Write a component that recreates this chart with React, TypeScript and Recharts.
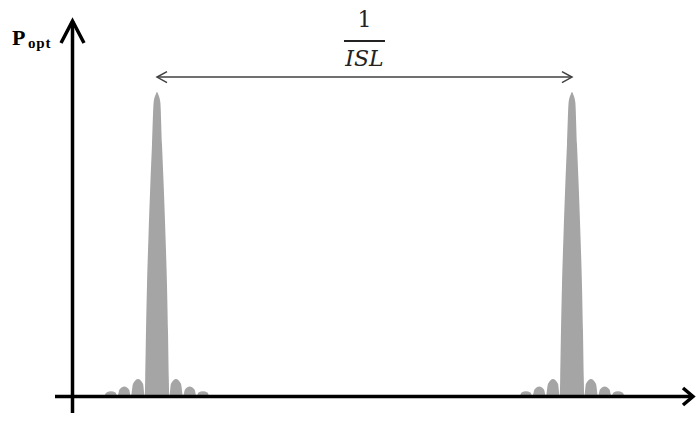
import React from 'react';
import { ComposedChart, Area, XAxis, YAxis, ReferenceLine } from 'recharts';

// peak positions on the frequency axis, in units of 1/ISL
const peakCenters = [0, 1];

// shape of one transmission peak: offset from peak centre (1/ISL units) and normalised power
const lobeOffsets = [
  -0.1265, -0.1217, -0.1108, -0.1, -0.0952, -0.0904, -0.0788, -0.0675, -0.0627, -0.0578, -0.0458, -0.0337, -0.0296,
  -0.0284, -0.0265, -0.0241, -0.0205, -0.0161, -0.012, -0.008, -0.0036,
  0,
  0.0036, 0.008, 0.012, 0.0161, 0.0205, 0.0241, 0.0265, 0.0284,
  0.0296, 0.0337, 0.0458, 0.0578, 0.0627, 0.0675, 0.0788, 0.0904, 0.0952, 0.1, 0.1108, 0.1217, 0.1265,
];
const lobePower = [
  0, 0.0115, 0.016, 0.0115, 0, 0.021, 0.031, 0.021, 0, 0.04, 0.056, 0.04, 0,
  0.059, 0.214, 0.365, 0.526, 0.694, 0.829, 0.967, 0.99,
  1,
  0.99, 0.967, 0.829, 0.694, 0.526, 0.365, 0.214, 0.059,
  0, 0.04, 0.056, 0.04, 0, 0.021, 0.031, 0.021, 0, 0.0115, 0.016, 0.0115, 0,
];

const axisLabel = 'P';
const axisLabelSub = 'opt';
const spacingNum = '1';
const spacingDen = 'ISL';

const data = peakCenters.flatMap((c) =>
  lobeOffsets.map((o, i) => ({ f: c + o, p: lobePower[i] }))
);

function chevron(tx: number, ty: number, ux: number, uy: number, back: number, side: number) {
  const nx = -uy;
  const ny = ux;
  const bx = tx - ux * back;
  const by = ty - uy * back;
  return `${bx + nx * side},${by + ny * side} ${tx},${ty} ${bx - nx * side},${by - ny * side}`;
}

function Arrow(props: any) {
  const { x1, y1, x2, y2, back, side, color, width, both, children } = props;
  const len = Math.hypot(x2 - x1, y2 - y1) || 1;
  const ux = (x2 - x1) / len;
  const uy = (y2 - y1) / len;
  return (
    <g>
      <line x1={x1} y1={y1} x2={x2} y2={y2} stroke={color} strokeWidth={width} />
      <polyline
        points={chevron(x2, y2, ux, uy, back, side)}
        fill="none"
        stroke={color}
        strokeWidth={width}
        strokeLinejoin="miter"
      />
      {both && (
        <polyline
          points={chevron(x1, y1, -ux, -uy, back, side)}
          fill="none"
          stroke={color}
          strokeWidth={width}
        />
      )}
      {children}
    </g>
  );
}

const yAxisShape = (p: any) => (
  <Arrow {...p} back={22} side={11.5} color="#000" width={3.5}>
    <text x={12} y={45} fontFamily="'Liberation Serif', serif" fontWeight="bold" fontSize={22} fill="#000">
      {axisLabel}
    </text>
    <text x={28} y={48} fontFamily="'Liberation Serif', serif" fontWeight="bold" fontSize={15} letterSpacing={0.8} fill="#000">
      {axisLabelSub}
    </text>
  </Arrow>
);

const xAxisShape = (p: any) => <Arrow {...p} back={10} side={8.5} color="#000" width={3.5} />;

const spacingShape = (p: any) => {
  const mx = (p.x1 + p.x2) / 2;
  return (
    <Arrow {...p} back={10} side={5.5} color="#404040" width={1.5} both>
      <text x={mx} y={p.y1 - 50} textAnchor="middle" fontFamily="'DejaVu Serif', serif" fontSize={22} fill="#222">
        {spacingNum}
      </text>
      <line x1={mx - 20.5} y1={p.y1 - 36} x2={mx + 20.5} y2={p.y1 - 36} stroke="#222" strokeWidth={2} />
      <text x={mx} y={p.y1 - 11} textAnchor="middle" fontFamily="'DejaVu Serif', serif" fontStyle="italic" fontSize={22} fill="#222">
        {spacingDen}
      </text>
    </Arrow>
  );
};

export default function App() {
  return (
    <div style={{ position: 'absolute', left: 0, top: 0, width: 696, height: 430, background: '#fff' }}>
      <ComposedChart
        width={696}
        height={430}
        data={data}
        margin={{ top: 16, right: 1.6, bottom: 15.76, left: 53.25 }}
      >
        <XAxis type="number" dataKey="f" domain={[-0.25, 1.295]} hide allowDataOverflow />
        <YAxis type="number" domain={[-0.06, 1.25]} hide allowDataOverflow />
        <Area
          type="monotone"
          dataKey="p"
          baseValue={0}
          fill="#a5a5a5"
          fillOpacity={1}
          stroke="none"
          dot={false}
          activeDot={false}
          isAnimationActive={false}
        />
        <ReferenceLine
          segment={[{ x: -0.2036, y: -0.056 }, { x: -0.2036, y: 1.2336 }]}
          ifOverflow="visible"
          shape={yAxisShape}
        />
        <ReferenceLine
          segment={[{ x: -0.2458, y: -0.0016 }, { x: 1.2916, y: -0.0016 }]}
          ifOverflow="visible"
          shape={xAxisShape}
        />
        <ReferenceLine
          segment={[{ x: peakCenters[0], y: 1.049 }, { x: peakCenters[1], y: 1.049 }]}
          ifOverflow="visible"
          shape={spacingShape}
        />
      </ComposedChart>
    </div>
  );
}
